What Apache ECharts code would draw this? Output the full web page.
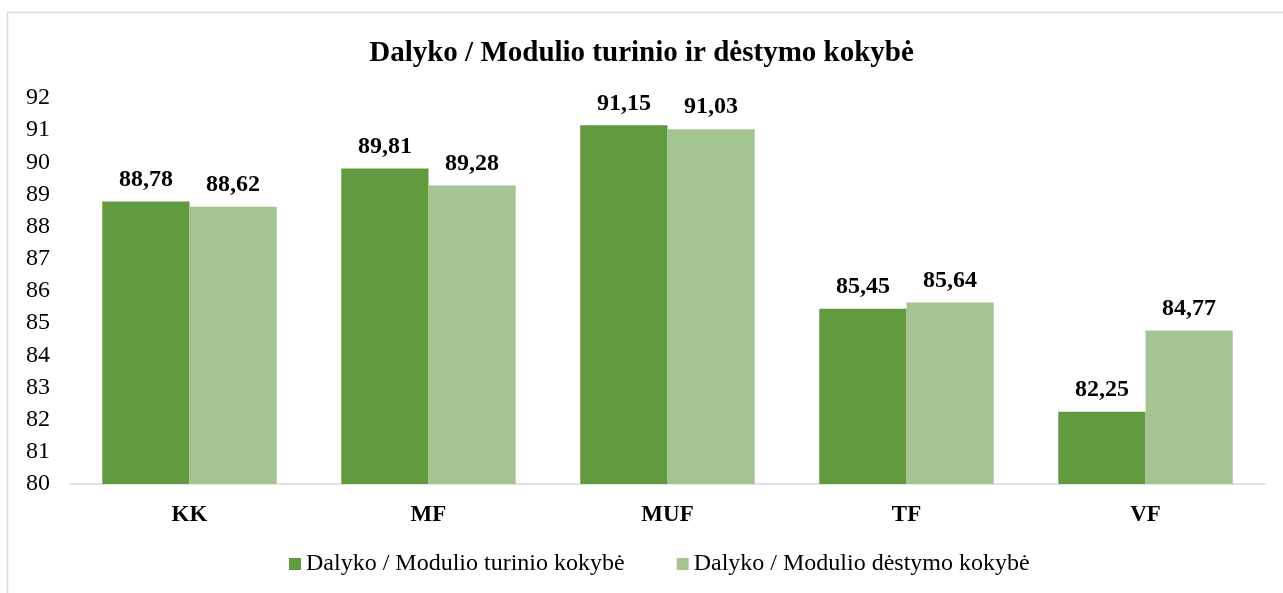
<!DOCTYPE html>
<html>
<head>
<meta charset="utf-8">
<script src="https://cdn.jsdelivr.net/npm/echarts@6/dist/echarts.min.js"></script>
<style>
  html, body { margin: 0; padding: 0; background: #fff; }
  #chart { width: 1283px; height: 593px; }
</style>
</head>
<body>
<div id="chart"></div>
<script>
const categories = ['KK', 'MF', 'MUF', 'TF', 'VF'];
const turinioValues = [88.78, 89.81, 91.15, 85.45, 82.25];
const destymoValues = [88.62, 89.28, 91.03, 85.64, 84.77];
const seriesNames = ['Dalyko / Modulio turinio kokybė', 'Dalyko / Modulio dėstymo kokybė'];
const colors = ['#629a3f', '#a4c592'];

const serif = '"Liberation Serif", "Times New Roman", serif';

const chart = echarts.init(document.getElementById('chart'));

const labelFmt = p => p.value.toFixed(2).replace('.', ',');

chart.setOption({
  animation: false,
  textStyle: { fontFamily: serif },
  graphic: [{
    type: 'rect',
    shape: { x: 7.5, y: 12.5, width: 1300, height: 600 },
    style: { fill: 'none', stroke: '#d9d9d9', lineWidth: 1.5 },
    silent: true
  }],
  title: {
    text: 'Dalyko / Modulio turinio ir dėstymo kokybė',
    left: 'center',
    top: 34,
    textStyle: { fontFamily: serif, fontSize: 29, fontWeight: 'bold', color: '#000' }
  },
  legend: {
    bottom: 12,
    left: 284,
    itemWidth: 12,
    itemHeight: 12,
    itemGap: 52,
    icon: 'rect',
    textStyle: { fontFamily: serif, fontSize: 24, color: '#000' },
    data: seriesNames
  },
  grid: { left: 70, right: 18, top: 98, bottom: 109, containLabel: false },
  xAxis: {
    type: 'category',
    data: categories,
    axisLine: { lineStyle: { color: '#d9d9d9', width: 1.5 } },
    axisTick: { show: false },
    axisLabel: { fontFamily: serif, fontSize: 23, fontWeight: 'bold', color: '#000', margin: 20 }
  },
  yAxis: {
    type: 'value',
    min: 80,
    max: 92,
    interval: 1,
    splitLine: { show: false },
    axisLine: { show: false },
    axisTick: { show: false },
    axisLabel: { fontFamily: serif, fontSize: 24, color: '#000', margin: 20 }
  },
  series: [
    {
      name: seriesNames[0],
      type: 'bar',
      data: turinioValues,
      itemStyle: { color: colors[0] },
      barGap: '0%',
      barCategoryGap: '27%',
      label: {
        show: true, position: 'top', distance: 10, formatter: labelFmt,
        fontFamily: serif, fontSize: 24, fontWeight: 'bold', color: '#000'
      }
    },
    {
      name: seriesNames[1],
      type: 'bar',
      data: destymoValues,
      itemStyle: { color: colors[1] },
      barGap: '0%',
      barCategoryGap: '27%',
      label: {
        show: true, position: 'top', distance: 10, formatter: labelFmt,
        fontFamily: serif, fontSize: 24, fontWeight: 'bold', color: '#000'
      }
    }
  ]
});
</script>
</body>
</html>
